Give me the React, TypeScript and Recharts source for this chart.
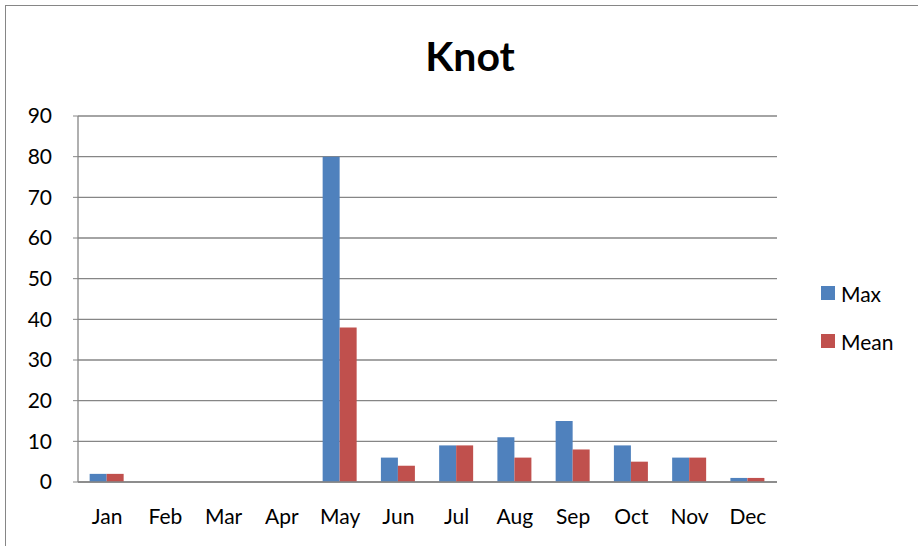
import React from 'react';
import { BarChart, Bar, XAxis, YAxis, CartesianGrid } from 'recharts';

const months = ['Jan', 'Feb', 'Mar', 'Apr', 'May', 'Jun', 'Jul', 'Aug', 'Sep', 'Oct', 'Nov', 'Dec'];
const maxValues = [2, 0, 0, 0, 80, 6, 9, 11, 15, 9, 6, 1];
const meanValues = [2, 0, 0, 0, 38, 4, 9, 6, 8, 5, 6, 1];
const yTicks = [0, 10, 20, 30, 40, 50, 60, 70, 80, 90];
const seriesNames = ['Max', 'Mean'];
const seriesColors = ['#4F81BD', '#C0504D'];

const data = months.map((m, i) => ({ month: m, Max: maxValues[i], Mean: meanValues[i] }));

const FONT = 'Lato, "Open Sans", sans-serif';

const LegendBox = () => (
  <div style={{ position: 'absolute', left: 821, top: 281, fontFamily: FONT, fontSize: 21, color: '#000' }}>
    {seriesNames.map((name, i) => (
      <div key={name} style={{ display: 'flex', alignItems: 'center', height: 24, marginBottom: i === 0 ? 24 : 0 }}>
        <span style={{ display: 'inline-block', width: 14, height: 14, background: seriesColors[i], marginRight: 6 }} />
        <span>{name}</span>
      </div>
    ))}
  </div>
);

export default function App() {
  return (
    <div style={{ position: 'absolute', left: 0, top: 0, width: 918, height: 546, overflow: 'hidden', background: '#fff' }}>
      <div style={{ position: 'absolute', left: 5, top: 5, width: 940, height: 560, border: '1px solid #868686' }} />
      <div style={{ position: 'absolute', left: 0, top: 30, width: 940, textAlign: 'center', fontFamily: FONT, fontWeight: 'bold', fontSize: 41, color: '#000', lineHeight: '52px' }}>
        Knot
      </div>
      <div style={{ position: 'absolute', left: 0, top: 0 }}>
        <BarChart width={918} height={546} data={data} margin={{ top: 116, right: 141, bottom: 0, left: 0 }} barCategoryGap="20%" barGap={0}>
          <CartesianGrid vertical={false} stroke="#868686" strokeWidth={1.3} />
          <XAxis dataKey="month" axisLine={{ stroke: '#868686', strokeWidth: 1.3 }} tickLine={false} tickSize={0} tickMargin={27} tick={{ fill: '#000', fontSize: 21, fontFamily: FONT }} interval={0} height={64} />
          <YAxis domain={[0, 90]} ticks={yTicks} width={78} axisLine={{ stroke: '#868686', strokeWidth: 1.3 }} tickLine={{ stroke: '#868686' }} tickSize={5} tickMargin={21} tick={{ fill: '#000', fontSize: 21, fontFamily: FONT }} interval={0} />
          <Bar dataKey="Max" fill={seriesColors[0]} isAnimationActive={false} />
          <Bar dataKey="Mean" fill={seriesColors[1]} isAnimationActive={false} />
        </BarChart>
      </div>
      <LegendBox />
    </div>
  );
}
